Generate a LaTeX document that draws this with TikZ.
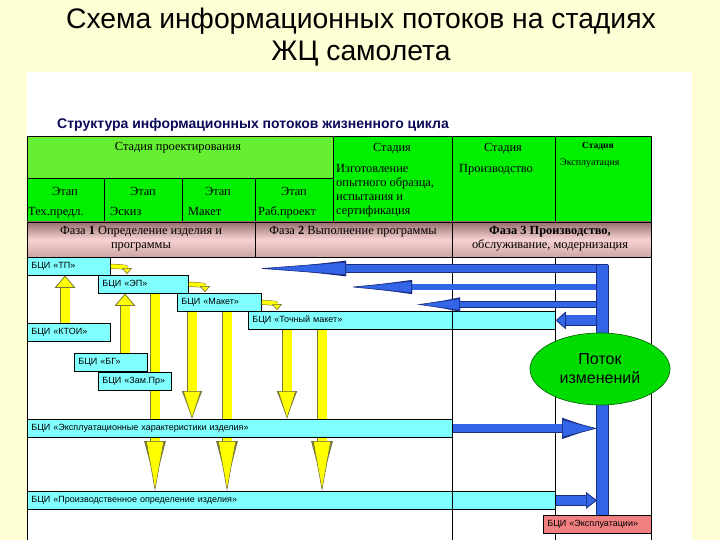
\documentclass[tikz,border=0pt]{standalone}
\usepackage{fontspec}
\setmainfont{Liberation Serif}
\setsansfont{Liberation Sans}
\usetikzlibrary{arrows.meta,shapes.geometric}

\definecolor{slideyellow}{RGB}{255,255,214}
\definecolor{projgreen}{RGB}{102,238,51}
\definecolor{stagegreen}{RGB}{0,240,0}
\definecolor{phasetop}{RGB}{150,110,110}
\definecolor{phasemid}{RGB}{248,210,210}
\definecolor{phasebot}{RGB}{205,165,165}
\definecolor{bcicyan}{RGB}{128,255,255}
\definecolor{arrowyellow}{RGB}{255,255,0}
\definecolor{arrowedge}{RGB}{120,120,60}
\definecolor{flowblue}{RGB}{51,102,230}
\definecolor{flowedge}{RGB}{25,45,130}
\definecolor{changegreen}{RGB}{0,220,0}
\definecolor{changeedge}{RGB}{0,90,0}
\definecolor{captionnavy}{RGB}{10,10,90}
\definecolor{explred}{RGB}{240,128,128}

\pgfdeclarelayer{slide}
\pgfdeclarelayer{flow}
\pgfsetlayers{slide,flow,main}

\begin{document}
\begin{tikzpicture}[x=1pt, y=-1pt,
    cell/.style={inner sep=1pt, font=\fontsize{12.4}{14}\selectfont},
    tablebox/.style={draw=black, line width=0.8pt},
    gridline/.style={draw=black, line width=0.8pt},
    bci/.style={draw=black, line width=0.8pt, fill=bcicyan, anchor=north west, minimum height=18pt,
        text width=#1, inner xsep=4pt, inner ysep=0pt, align=left, font=\sffamily\fontsize{9}{11}\selectfont},
    yarr/.style 2 args={draw=arrowyellow, line width=9pt,
        -{Triangle[width=#1, length=#2, line width=0.6pt 0, fill=arrowyellow, color=arrowedge]},
        preaction={draw=arrowedge, line width=10.2pt, -{Triangle[width=#1, length=#2]}}},
    yhook/.style={draw=arrowyellow, line width=4pt,
        -{Triangle[width=10pt, length=6pt, line width=0.5pt 0, fill=arrowyellow, color=arrowedge]},
        preaction={draw=arrowedge, line width=5pt, -{Triangle[width=10pt, length=6pt]}}},
    barr/.style n args={3}{draw=flowblue, line width=#1,
        -{Triangle[width=#2, length=#3, line width=0.6pt 0, fill=flowblue, color=flowedge]},
        preaction={draw=flowedge, line width=#1+1.2pt, -{Triangle[width=#2, length=#3]}}},
    bluebar/.style={draw=flowblue, line width=11pt, preaction={draw=flowedge, line width=12.2pt}},
    change/.style={ellipse, draw=changeedge, line width=0.6pt, fill=changegreen, minimum width=140pt,
        minimum height=72pt, align=center, font=\sffamily\fontsize{16}{19}\selectfont}
]

    \useasboundingbox (0,0) rectangle (720,540);
    \begin{pgfonlayer}{slide}
        \fill[slideyellow] (0,0) rectangle (720,540);
        \fill[white] (27,72) rectangle (692,540);
    \end{pgfonlayer}

    \node[align=center, font=\sffamily\fontsize{28.3}{32}\selectfont] (title) at (361,37)
        {Схема информационных потоков на стадиях\\ЖЦ самолета};

    \node[anchor=west, inner sep=0pt, text=captionnavy, font=\sffamily\bfseries\fontsize{14}{16}\selectfont]
        (caption) at (57,125) {Структура информационных потоков жизненного цикла};

    \filldraw[tablebox, fill=projgreen] (27,136) rectangle (333,178);
    \filldraw[tablebox, fill=stagegreen] (333,136) rectangle (452,222);
    \filldraw[tablebox, fill=stagegreen] (452,136) rectangle (555,222);
    \filldraw[tablebox, fill=stagegreen] (555,136) rectangle (651,222);
    \filldraw[tablebox, fill=stagegreen] (27,178) rectangle (104,222);
    \filldraw[tablebox, fill=stagegreen] (104,178) rectangle (182,222);
    \filldraw[tablebox, fill=stagegreen] (182,178) rectangle (255,222);
    \filldraw[tablebox, fill=stagegreen] (255,178) rectangle (333,222);
    \draw[tablebox, top color=phasetop, bottom color=phasebot, middle color=phasemid] (27,222) rectangle (255,257);
    \draw[tablebox, top color=phasetop, bottom color=phasebot, middle color=phasemid] (255,222) rectangle (452,257);
    \draw[tablebox, top color=phasetop, bottom color=phasebot, middle color=phasemid] (452,222) rectangle (651,257);

    \node[cell] (projstage) at (178,148) {Стадия проектирования};
    \node[cell] (protostage) at (392,149) {Стадия};
    \node[cell, anchor=north west, align=left] (prototext) at (335,163)
        {Изготовление\\опытного образца,\\испытания и\\сертификация};
    \node[cell] (prodstage) at (503,149) {Стадия};
    \node[cell, anchor=west] (prodtext) at (458,170) {Производство};
    \node[cell, font=\bfseries\fontsize{9.5}{11}\selectfont] (exstage) at (598,146) {Стадия};
    \node[cell, anchor=west, font=\fontsize{10}{12}\selectfont] (extext) at (559,163) {Эксплуатация};

    \node[cell, anchor=base] (etap1) at (65,196) {Этап};
    \node[cell, anchor=base] (etap2) at (143,196) {Этап};
    \node[cell, anchor=base] (etap3) at (218,196) {Этап};
    \node[cell, anchor=base] (etap4) at (294,196) {Этап};
    \node[cell, anchor=base west] (etapname1) at (27,215) {Тех.предл.};
    \node[cell, anchor=base west] (etapname2) at (109,215) {Эскиз};
    \node[cell, anchor=base west] (etapname3) at (187,215) {Макет};
    \node[cell, anchor=base west] (etapname4) at (257,215) {Раб.проект};

    \node[cell, align=center] (phase1) at (141,239) {Фаза \textbf{1} Определение изделия и\\программы};
    \node[cell] (phase2) at (353,232) {Фаза \textbf{2} Выполнение программы};
    \node[cell, align=center] (phase3) at (550,239) {\textbf{Фаза 3 Производство,}\\обслуживание, модернизация};

    \node[bci=75pt] (tp) at (27,257) {БЦИ «ТП»};
    \node[bci=82pt] (ep) at (98,275) {БЦИ «ЭП»};
    \node[bci=76pt] (maket) at (177,293) {БЦИ «Макет»};
    \node[bci=299pt] (tmaket) at (248,311) {БЦИ «Точный макет»};
    \node[bci=75pt] (ktoi) at (27,323) {БЦИ «КТОИ»};
    \node[bci=65pt] (bg) at (74,353) {БЦИ «БГ»};
    \node[bci=65pt] (zampr) at (98,372) {БЦИ «Зам.Пр»};
    \node[bci=417pt] (ekspch) at (27,419) {БЦИ «Эксплуатационные характеристики изделия»};
    \node[bci=520pt] (proizv) at (27,491) {БЦИ «Производственное определение изделия»};

    \begin{pgfonlayer}{flow}
        \draw[yarr={20pt}{12pt}] ([xshift=38pt]ktoi.north west) -- ([xshift=38pt]tp.south west);
        \draw[yarr={20pt}{12pt}] ([xshift=51pt]bg.north west) -- ([xshift=27pt]ep.south west);
        \draw[yarr={18pt}{50pt}] ([xshift=57pt]ep.south west) -- ([xshift=128pt]proizv.north west);
        \draw[yarr={18pt}{28pt}] ([xshift=15pt]maket.south west) -- ([xshift=165pt]ekspch.north west);
        \draw[yarr={18pt}{50pt}] ([xshift=50pt]maket.south west) -- ([xshift=200pt]proizv.north west);
        \draw[yarr={18pt}{28pt}] ([xshift=39pt]tmaket.south west) -- ([xshift=260pt]ekspch.north west);
        \draw[yarr={18pt}{50pt}] ([xshift=74pt]tmaket.south west) -- ([xshift=295pt]proizv.north west);
    \end{pgfonlayer}

    \draw[yhook] (tp.east) to[out=0, in=90] ([xshift=29pt, yshift=1pt]ep.north west);
    \draw[yhook] (ep.east) to[out=0, in=90] ([xshift=28pt, yshift=1pt]maket.north west);
    \draw[yhook] (maket.east) to[out=0, in=90] ([xshift=29pt, yshift=1pt]tmaket.north west);

    \draw[gridline] (27,257) -- (27,540);
    \draw[gridline] (452,257) -- (452,540);
    \draw[gridline] (555,257) -- (555,540);
    \draw[gridline] (651,257) -- (651,540);

    \node[bci=100pt, fill=explred] (bciexpl) at (543,515) {БЦИ «Эксплуатации»};

    \coordinate (bustop) at (602.5,265);
    \coordinate (busedge) at (608,265);
    \coordinate (barleft) at (597,265);
    \coordinate (flow1) at (258,268.5);
    \coordinate (flow2) at (350,287);
    \coordinate (flow3) at (417,304.5);

    \draw[barr={7pt}{13pt}{88pt}] (busedge |- flow1) -- (flow1);
    \draw[barr={5.5pt}{12pt}{62pt}] (bustop |- flow2) -- (flow2);
    \draw[barr={5.5pt}{12pt}{43pt}] (bustop |- flow3) -- (flow3);
    \draw[barr={10pt}{17pt}{10pt}] (bustop |- tmaket.east) -- (tmaket.east);
    \draw[barr={8pt}{18pt}{35pt}] (ekspch.east) -- (ekspch.east -| barleft);
    \draw[barr={9pt}{16pt}{11pt}] (proizv.east) -- (proizv.east -| barleft);
    \draw[bluebar] (bustop) -- (bustop |- bciexpl.north);

    \node[change] (chgflow) at (600,369) {Поток\\изменений};

\end{tikzpicture}
\end{document}
